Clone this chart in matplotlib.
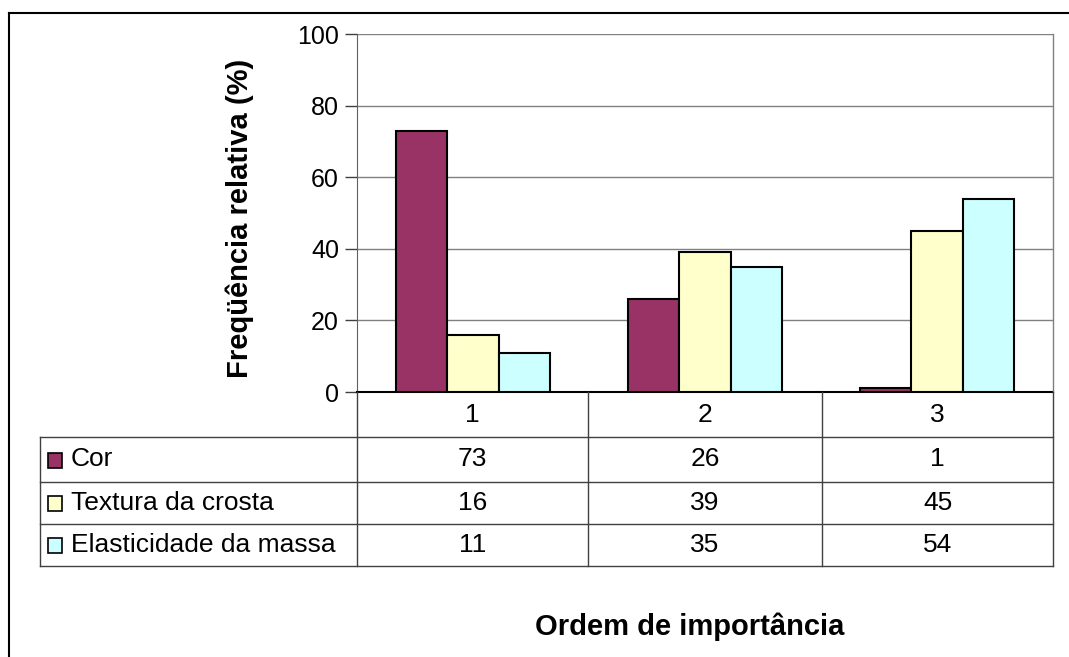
import matplotlib
matplotlib.use("Agg")
import matplotlib.pyplot as plt
from matplotlib.lines import Line2D
from matplotlib.patches import Rectangle
import numpy as np

plt.rcParams['font.family'] = ['Liberation Sans', 'DejaVu Sans']

categories = ['1', '2', '3']
series_names = ['Cor', 'Textura da crosta', 'Elasticidade da massa']
cor = [73, 26, 1]
textura = [16, 39, 45]
elasticidade = [11, 35, 54]
series_values = [cor, textura, elasticidade]
colors = ['#993366', '#FFFFCC', '#CCFFFF']
yticks = [0, 20, 40, 60, 80, 100]

W, H = 1069, 657
fig = plt.figure(figsize=(W / 100, H / 100), dpi=100)


def fx(x):
    return x / W


def fy(y):
    return 1 - y / H


def hline(y, x0, x1, color='#404040', lw=1.0):
    fig.add_artist(Line2D([fx(x0), fx(x1)], [fy(y), fy(y)], color=color, lw=lw,
                          transform=fig.transFigure))


def vline(x, y0, y1, color='#404040', lw=1.0):
    fig.add_artist(Line2D([fx(x), fx(x)], [fy(y0), fy(y1)], color=color, lw=lw,
                          transform=fig.transFigure))


# plot area
left, right, top, bottom = 357, 1053, 34, 392
ax = fig.add_axes([fx(left), fy(bottom), (right - left) / W, (bottom - top) / H])
x = np.arange(len(categories))
bw = 0.222
for i, (name, vals, c) in enumerate(zip(series_names, series_values, colors)):
    ax.bar(x + (i - 1) * bw, vals, width=bw, color=c, edgecolor='black',
           linewidth=1.5, zorder=3)

ax.set_xlim(-0.5, len(categories) - 0.5)
ax.set_ylim(0, 100)
ax.set_yticks(yticks)
ax.set_xticks([])
ax.yaxis.grid(True, color='#808080', lw=1.0, zorder=0)
ax.tick_params(axis='y', direction='out', length=9, width=1, color='#404040',
               labelsize=18, pad=4)
for s in ['top', 'right']:
    ax.spines[s].set_visible(False)
ax.spines['left'].set_color('#606060')
ax.spines['bottom'].set_color('black')
ax.spines['bottom'].set_linewidth(1.5)
vline(right, top, bottom, color='#808080')

fig.text(fx(240), fy(218), 'Freqüência relativa (%)', rotation=90, ha='center',
         va='center', fontsize=21, fontweight='bold')

# data table under the plot
col_edges = [357, 588, 822, 1053]
row_edges = [392, 437, 482, 524, 566]
table_left = 40
for xe in col_edges:
    vline(xe, row_edges[0], row_edges[-1])
vline(table_left, row_edges[1], row_edges[-1])
for ye in row_edges[1:]:
    hline(ye, table_left, col_edges[-1])

col_centers = [(a + b) / 2 for a, b in zip(col_edges[:-1], col_edges[1:])]
row_centers = [(a + b) / 2 for a, b in zip(row_edges[:-1], row_edges[1:])]
for cx, cat in zip(col_centers, categories):
    fig.text(fx(cx), fy(row_centers[0]), cat, ha='center', va='center', fontsize=19)
for r, (name, vals, c) in enumerate(zip(series_names, series_values, colors)):
    ry = row_centers[r + 1]
    fig.add_artist(Rectangle((fx(48), fy(ry + 8)), 14 / W, 15 / H, facecolor=c,
                             edgecolor='black', lw=1.2, transform=fig.transFigure))
    fig.text(fx(71), fy(ry), name, ha='left', va='center', fontsize=19)
    for cx, v in zip(col_centers, vals):
        fig.text(fx(cx), fy(ry), str(v), ha='center', va='center', fontsize=19)

fig.text(fx(690), fy(627), 'Ordem de importância', ha='center', va='center',
         fontsize=21, fontweight='bold')

# chart frame
hline(13, 9, W, color='black', lw=1.5)
vline(9, 13, H, color='black', lw=1.5)

fig.savefig('out.png', dpi=100)
